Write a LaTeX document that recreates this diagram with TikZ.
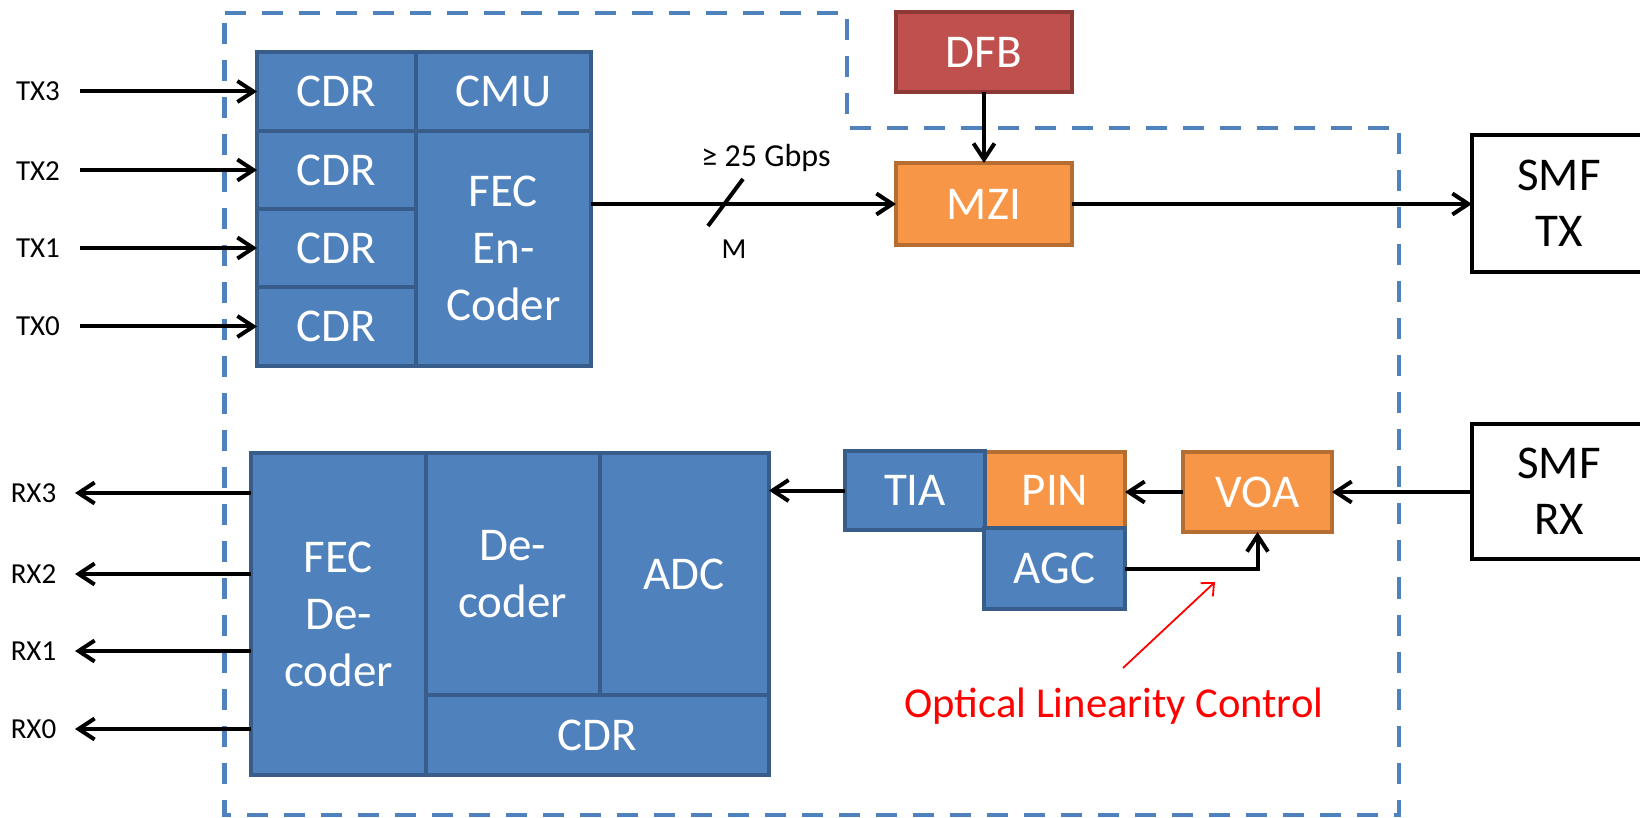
\documentclass[tikz,border=0pt]{standalone}
\usepackage{fontspec}
\setmainfont{Carlito}
\usetikzlibrary{arrows.meta}
\definecolor{bfill}{HTML}{4F81BD}
\definecolor{bdraw}{HTML}{385D8A}
\definecolor{ofill}{HTML}{F79646}
\definecolor{odraw}{HTML}{B66D31}
\definecolor{rfill}{HTML}{C0504D}
\definecolor{rdraw}{HTML}{8C3836}
\definecolor{olcred}{HTML}{FF0000}
\tikzset{
  cell/.style={draw, line width=2pt, outer sep=0pt, inner sep=0pt, text=white, align=center,
    font=\fontsize{23.5}{28.5}\selectfont},
  bluecell/.style={cell, fill=bfill, draw=bdraw},
  orangecell/.style={cell, fill=ofill, draw=odraw},
  redcell/.style={cell, fill=rfill, draw=rdraw},
  smfbox/.style={draw=black, line width=2pt, fill=white, outer sep=0pt, inner sep=0pt, align=center,
    text=black, font=\fontsize{23.5}{28}\selectfont},
  conn/.style={line width=2pt, -{Straight Barb[length=8pt,width=10.5pt]}},
  lbl/.style={font=\fontsize{14.5}{17}\selectfont, inner sep=0pt},
  boundary/.style={draw=bfill, line width=2.2pt, dash pattern=on 10.5pt off 8pt},
  redarrow/.style={draw=olcred, line width=0.9pt, -{Straight Barb[length=5pt,width=9pt]}},
}
\begin{document}
\begin{tikzpicture}[x=0.5pt,y=-0.5pt]
\useasboundingbox (0,0) rectangle (1640,818);
\clip (0,0) rectangle (1640,818);

% module boundary
\draw[boundary] (224.5,13) -- (847,13) -- (847,128) -- (1399,128) -- (1399,815) -- (224.5,815) -- cycle;

% TX block
\node[bluecell, minimum width=79.5pt, minimum height=39.5pt] (cdr3) at (336.5,91.5) {CDR};
\node[bluecell, minimum width=79.5pt, minimum height=39pt]   (cdr2) at (336.5,170) {CDR};
\node[bluecell, minimum width=79.5pt, minimum height=39pt]   (cdr1) at (336.5,248) {CDR};
\node[bluecell, minimum width=79.5pt, minimum height=39.5pt] (cdr0) at (336.5,326.5) {CDR};
\node[bluecell, minimum width=87.5pt, minimum height=39.5pt] (cmu) at (503.5,91.5) {CMU};
\node[bluecell, minimum width=87.5pt, minimum height=117.5pt] (fecenc) at (503.5,248.5) {FEC\\En-\\Coder};

% TX inputs
\node[lbl] (tx3l) at (38,91) {TX3};
\node[lbl] (tx2l) at (38,171) {TX2};
\node[lbl] (tx1l) at (38,248) {TX1};
\node[lbl] (tx0l) at (38,326) {TX0};
\coordinate (t3) at (80,91.5);
\coordinate (t2) at (80,170);
\coordinate (t1) at (80,248);
\coordinate (t0) at (80,326.5);
\draw[conn] (t3) -- (cdr3.west);
\draw[conn] (t2) -- (cdr2.west);
\draw[conn] (t1) -- (cdr1.west);
\draw[conn] (t0) -- (cdr0.west);

% laser / modulator
\node[redcell, minimum width=88pt, minimum height=40pt] (dfb) at (984,52) {DFB};
\node[orangecell, minimum width=88pt, minimum height=41pt] (mzi) at (984,204) {MZI};
\draw[conn] (dfb.south) -- (mzi.north);
\draw[conn] (fecenc.east |- mzi.west) -- (mzi.west);
\draw[line width=2pt] (708,226) -- (743,179);
\node[lbl, font=\fontsize{16}{19}\selectfont] (rate) at (766,158) {≥ 25 Gbps};
\node[lbl] (mlbl) at (734,249) {M};

% SMF boxes
\node[smfbox, minimum width=87pt, minimum height=68.5pt] (smftx) at (1559,203.5) {SMF\\TX};
\node[smfbox, minimum width=87pt, minimum height=67.5pt] (smfrx) at (1559,491.5) {SMF\\RX};
\draw[conn] (mzi.east) -- (mzi.east -| smftx.west);

% RX front end
\node[orangecell, minimum width=70pt, minimum height=38pt] (pin) at (1055,490) {PIN};
\node[bluecell, minimum width=69.75pt, minimum height=39.5pt] (tia) at (915,490.5) {TIA};
\node[bluecell, minimum width=70.5pt, minimum height=40.5pt] (agc) at (1054.5,568.5) {AGC};
\node[orangecell, minimum width=74.5pt, minimum height=40pt] (voa) at (1257.5,492) {VOA};
\draw[conn] (voa.east -| smfrx.west) -- (voa.east);
\draw[conn] (voa.west) -- (voa.west -| pin.east);
\draw[conn] (agc.east) -| (voa.south);

% RX block
\node[bluecell, minimum width=87.5pt, minimum height=161pt] (fecdec) at (338.5,614) {FEC\\De-\\coder};
\node[bluecell, minimum width=86.75pt, minimum height=121pt] (dec) at (512.75,574) {De-\\coder};
\node[bluecell, minimum width=84.75pt, minimum height=121pt] (adc) at (684.25,574) {ADC};
\node[bluecell, minimum width=171.5pt, minimum height=40pt] (cdrrx) at (597.5,735) {CDR};
\draw[conn] (tia.west) -- (tia.west -| adc.east);

% RX outputs
\coordinate (r3) at (75,493);
\coordinate (r2) at (75,574);
\coordinate (r1) at (75,651);
\coordinate (r0) at (75,729);
\draw[conn] (fecdec.west |- r3) -- (r3);
\draw[conn] (fecdec.west |- r2) -- (r2);
\draw[conn] (fecdec.west |- r1) -- (r1);
\draw[conn] (fecdec.west |- r0) -- (r0);
\node[lbl] (rx3l) at (33.5,493) {RX3};
\node[lbl] (rx2l) at (33.5,574) {RX2};
\node[lbl] (rx1l) at (33.5,651) {RX1};
\node[lbl] (rx0l) at (33.5,729) {RX0};

% annotation
\node[text=olcred, font=\fontsize{21.3}{25}\selectfont, anchor=base, inner sep=0pt] (olc) at (1114,717) {Optical Linearity Control};
\coordinate (olcA) at (1123,668);
\coordinate (olcB) at (1215,582);
\draw[redarrow] (olcA) -- (olcB);
\end{tikzpicture}
\end{document}
